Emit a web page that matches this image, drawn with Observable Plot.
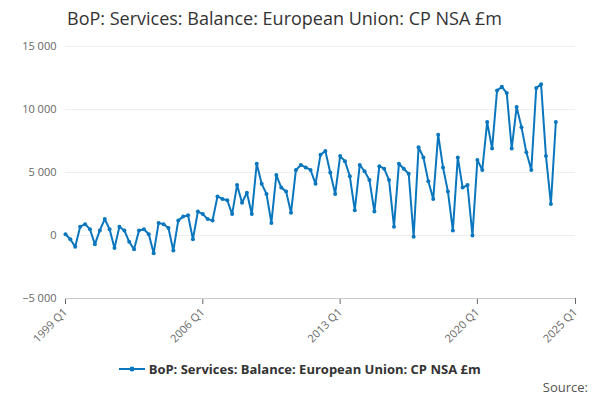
<!DOCTYPE html>
<html><head><meta charset="utf-8">
<script src="https://cdn.jsdelivr.net/npm/d3@7"></script>
<script src="https://cdn.jsdelivr.net/npm/@observablehq/plot@0.6"></script>
<style>
body{margin:0;font-family:"Open Sans",sans-serif;background:#fff;}
#title{height:36px;padding-left:67px;font-size:18px;line-height:36px;color:#333;}
#legend{text-align:center;font-size:13px;font-weight:bold;color:#333;margin-top:4px;}
#source{text-align:right;padding-right:12px;font-size:13px;color:#555;}
</style></head><body>
<div id="title">BoP: Services: Balance: European Union: CP NSA £m</div>
<div id="chart"></div>
<div id="legend"><svg width="26" height="10"><line x1="0" y1="5" x2="26" y2="5" stroke="#0a76bd" stroke-width="2"/><circle cx="13" cy="5" r="2.5" fill="#0a76bd"/></svg> BoP: Services: Balance: European Union: CP NSA £m</div>
<div id="source">Source:</div>
<script>
const startYear = 1999;
const values = [0.1,-0.3,-0.9,0.7,0.9,0.5,-0.7,0.4,1.3,0.5,-1.0,0.7,0.4,-0.5,-1.1,0.4,0.5,0.1,-1.4,1.0,0.9,0.6,-1.2,1.2,1.5,1.6,-0.3,1.9,1.7,1.3,1.2,3.1,
2.9,2.8,1.7,4.0,2.6,3.4,1.7,5.7,4.1,3.3,1.0,4.8,3.8,3.5,1.8,5.2,5.6,5.4,5.2,4.1,6.4,6.7,5.0,3.3,6.3,5.9,4.7,2.0,5.6,5.1,4.4,1.9,5.5,5.3,4.4,0.7,
5.7,5.3,4.9,-0.1,7.0,6.2,4.3,2.9,8.0,5.4,3.5,0.4,6.2,3.8,4.0,0.0,6.0,5.2,9.0,6.9,11.5,11.8,11.3,6.9,10.2,8.6,6.6,5.2,11.7,12.0,6.3,2.5,9.0].map(v=>v*1000);
const tickYears = [1999,2006,2013,2020,2025];
const data = values.map((v,i)=>({date:new Date(Date.UTC(startYear+Math.floor(i/4),(i%4)*3,1)),value:v}));
const fmt = d3.format(",");
const chart = Plot.plot({
  width:600,height:320,marginTop:10,marginBottom:58,marginLeft:65,marginRight:25,
  style:{fontFamily:"Open Sans",fontSize:"11px",color:"#666"},
  x:{type:"utc",domain:[new Date(Date.UTC(1999,0,1)),new Date(Date.UTC(2025,0,1))],
     ticks:tickYears.map(y=>new Date(Date.UTC(y,0,1))),tickFormat:d=>d.getUTCFullYear()+" Q1",tickRotate:-45,label:null,tickSize:6},
  y:{domain:[-5000,15000],ticks:[-5000,0,5000,10000,15000],tickFormat:d=>fmt(d).replace(/,/g," "),label:null,tickSize:0,grid:true},
  marks:[
    Plot.ruleY([-5000],{stroke:"#ccc"}),
    Plot.line(data,{x:"date",y:"value",stroke:"#0a76bd",strokeWidth:2}),
    Plot.dot(data,{x:"date",y:"value",fill:"#0a76bd",r:2})
  ]
});
document.getElementById("chart").append(chart);
</script></body></html>
